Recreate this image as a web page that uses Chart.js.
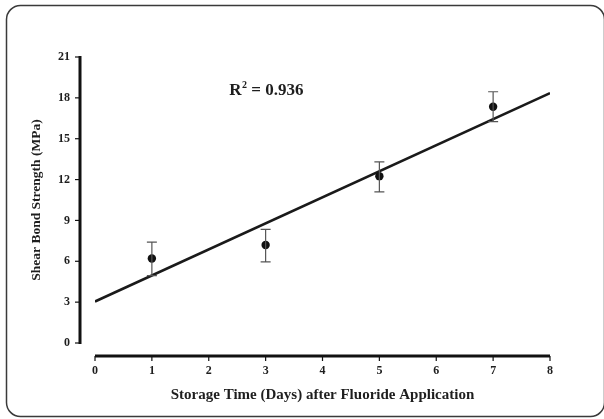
<!DOCTYPE html>
<html>
<head>
<meta charset="utf-8">
<script src="https://cdn.jsdelivr.net/npm/chart.js@4/dist/chart.umd.min.js"></script>
<style>
  html, body { margin: 0; padding: 0; background: #fff; }
  #wrap { width: 604px; height: 419px; }
</style>
</head>
<body>
<div id="wrap"><canvas id="c" width="604" height="419"></canvas></div>
<script>
// ---- Data ----
const days = [1, 3, 5, 7];
const meanStrength = [6.2, 7.2, 12.25, 17.35];
const upperError = [7.4, 8.35, 13.3, 18.45];
const lowerError = [4.95, 5.95, 11.1, 16.25];
const trendX = [0, 8];
const trendY = [3.05, 18.35];
const xTicks = [0, 1, 2, 3, 4, 5, 6, 7, 8];
const yTicks = [0, 3, 6, 9, 12, 15, 18, 21];
const xTitle = 'Storage Time (Days) after Fluoride Application';
const yTitle = 'Shear Bond Strength (MPa)';
const r2Label = '0.936';

const FONT = "'Liberation Serif', 'Times New Roman', serif";
const INK = '#1e1e1e';

const pointData = days.map((d, i) => ({ x: d, y: meanStrength[i] }));
const trendData = trendX.map((x, i) => ({ x: x, y: trendY[i] }));

const decorPlugin = {
  id: 'decor',
  beforeDraw(chart) {
    const ctx = chart.ctx;
    ctx.save();
    ctx.fillStyle = '#fff';
    ctx.fillRect(0, 0, chart.width, chart.height);
    // rounded frame
    ctx.strokeStyle = '#3a3a3a';
    ctx.lineWidth = 1.5;
    ctx.beginPath();
    ctx.roundRect(6.5, 5.5, 598, 411, 14);
    ctx.stroke();
    ctx.restore();
  },
  afterDatasetsDraw(chart) {
    const ctx = chart.ctx;
    const xs = chart.scales.x, ys = chart.scales.y;
    const ca = chart.chartArea;
    ctx.save();
    // error bars
    ctx.strokeStyle = '#555';
    ctx.lineWidth = 1.2;
    days.forEach((d, i) => {
      const px = xs.getPixelForValue(d);
      const t = ys.getPixelForValue(upperError[i]);
      const b = ys.getPixelForValue(lowerError[i]);
      ctx.beginPath();
      ctx.moveTo(px, t); ctx.lineTo(px, b);
      ctx.moveTo(px - 5, t); ctx.lineTo(px + 5, t);
      ctx.moveTo(px - 5, b); ctx.lineTo(px + 5, b);
      ctx.stroke();
    });
    // y axis line (offset to the left)
    const ax = ca.left - 15;
    ctx.strokeStyle = '#111';
    ctx.lineWidth = 3;
    ctx.beginPath();
    ctx.moveTo(ax, ys.getPixelForValue(yTicks[yTicks.length - 1]) - 1);
    ctx.lineTo(ax, ys.getPixelForValue(yTicks[0]) + 1);
    ctx.stroke();
    ctx.lineWidth = 1.2;
    yTicks.forEach(v => {
      const py = ys.getPixelForValue(v);
      ctx.beginPath(); ctx.moveTo(ax - 5, py); ctx.lineTo(ax, py); ctx.stroke();
    });
    // x axis line (offset below)
    const ay = ca.bottom + 13;
    ctx.lineWidth = 3;
    ctx.beginPath();
    ctx.moveTo(xs.getPixelForValue(xTicks[0]), ay);
    ctx.lineTo(xs.getPixelForValue(xTicks[xTicks.length - 1]), ay);
    ctx.stroke();
    ctx.lineWidth = 1.2;
    xTicks.forEach(v => {
      const px = xs.getPixelForValue(v);
      ctx.beginPath(); ctx.moveTo(px, ay); ctx.lineTo(px, ay + 5); ctx.stroke();
    });
    // R^2 annotation
    const lx = xs.getPixelForValue(2.36);
    const ly = ys.getPixelForValue(18.2);
    ctx.fillStyle = INK;
    ctx.textBaseline = 'alphabetic';
    ctx.textAlign = 'left';
    ctx.font = 'bold 17px ' + FONT;
    ctx.fillText('R', lx, ly);
    let w = ctx.measureText('R').width;
    ctx.font = 'bold 10px ' + FONT;
    ctx.fillText('2', lx + w + 0.5, ly - 7.5);
    w += ctx.measureText('2').width + 0.5;
    ctx.font = 'bold 17px ' + FONT;
    ctx.fillText(' = ' + r2Label, lx + w, ly);
    ctx.restore();
  }
};

new Chart(document.getElementById('c'), {
  data: {
    datasets: [
      {
        type: 'line',
        data: trendData,
        borderColor: '#1a1a1a',
        borderWidth: 2.6,
        pointRadius: 0,
        fill: false,
        tension: 0,
        order: 2
      },
      {
        type: 'scatter',
        data: pointData,
        backgroundColor: '#111',
        borderColor: '#111',
        pointRadius: 4.2,
        borderWidth: 0,
        order: 1
      }
    ]
  },
  options: {
    responsive: false,
    devicePixelRatio: 1,
    animation: false,
    layout: { padding: { left: 0, top: 57, right: 54, bottom: 0 } },
    plugins: { legend: { display: false }, tooltip: { enabled: false } },
    scales: {
      x: {
        type: 'linear',
        min: 0, max: 8,
        afterBuildTicks: s => { s.ticks = xTicks.map(v => ({ value: v })); },
        afterFit: s => { s.height = 76; },
        grid: { display: false, drawTicks: false },
        border: { display: false },
        ticks: { padding: 21, color: INK, font: { family: FONT, size: 12, weight: 'bold' } },
        title: {
          display: true, text: xTitle, color: INK,
          font: { family: FONT, size: 15, weight: 'bold' },
          padding: { top: 0, bottom: 15 }
        }
      },
      y: {
        type: 'linear',
        min: 0, max: 21,
        afterBuildTicks: s => { s.ticks = yTicks.map(v => ({ value: v })); },
        afterFit: s => { s.width = 95; },
        grid: { display: false, drawTicks: false },
        border: { display: false },
        ticks: { padding: 25, color: INK, font: { family: FONT, size: 12, weight: 'bold' } },
        title: {
          display: true, text: yTitle, color: INK,
          font: { family: FONT, size: 13.5, weight: 'bold' },
          padding: { top: 28, bottom: 0 }
        }
      }
    }
  },
  plugins: [decorPlugin]
});
</script>
</body>
</html>
